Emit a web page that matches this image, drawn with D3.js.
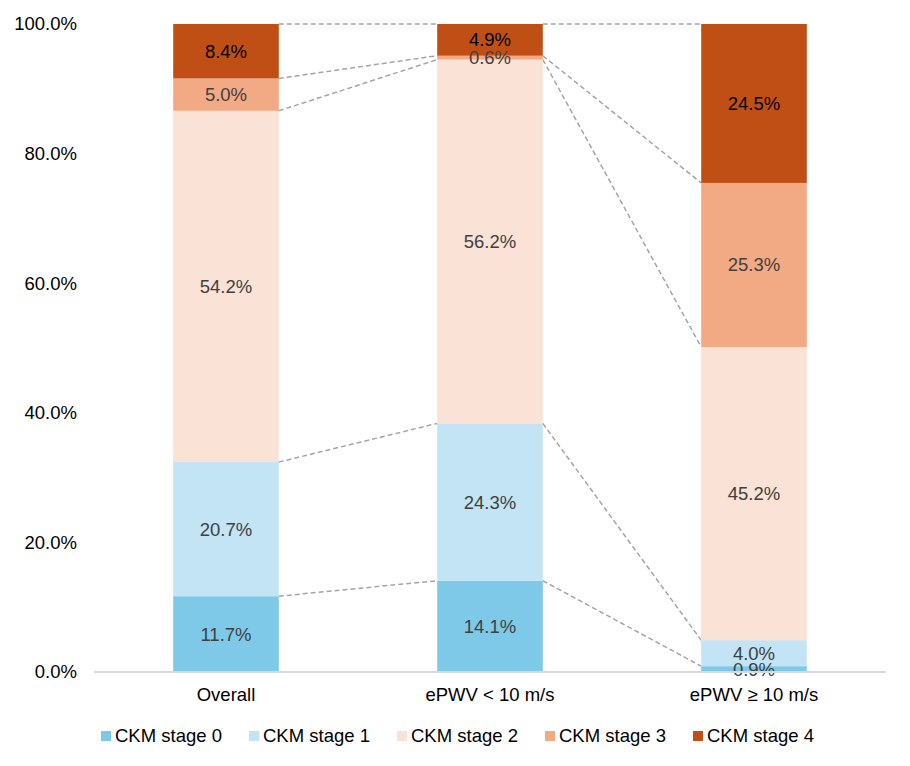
<!DOCTYPE html>
<html><head><meta charset="utf-8">
<script src="https://cdn.jsdelivr.net/npm/d3@7"></script>
<style>body{margin:0;background:#fff}svg{display:block;font-family:"Liberation Sans",Arial,sans-serif}</style>
</head><body><svg id="c" width="910" height="766"></svg>
<script>
const categories = ["Overall", "ePWV < 10 m/s", "ePWV \u2265 10 m/s"];
const seriesNames = ["CKM stage 0", "CKM stage 1", "CKM stage 2", "CKM stage 3", "CKM stage 4"];
const stage0 = [11.7, 14.1, 0.9];
const stage1 = [20.7, 24.3, 4.0];
const stage2 = [54.2, 56.2, 45.2];
const stage3 = [5.0, 0.6, 25.3];
const stage4 = [8.4, 4.9, 24.5];
const colors = ["#7FC9E8", "#C2E4F4", "#FBE2D6", "#F2AA84", "#C04F15"];
const labelColors = ["#404040", "#404040", "#404040", "#404040", "#000000"];
const yTicks = [0, 0.2, 0.4, 0.6, 0.8, 1.0];

const seriesVals = [stage0, stage1, stage2, stage3, stage4];
const table = categories.map((c, i) => {
  const o = {cat: c};
  seriesNames.forEach((s, j) => o[s] = seriesVals[j][i]);
  return o;
});
const stacked = d3.stack().keys(seriesNames).offset(d3.stackOffsetExpand)(table);

const FS = 18.5;
const svg = d3.select("#c");
const pL = 94, pR = 886, pT = 24, pB = 672;
const x = d3.scaleBand().domain(categories).range([pL, pR]).paddingInner(0.6).paddingOuter(0.3);
const y = d3.scaleLinear().domain([0, 1]).range([pB, pT]);

// y axis labels
const yAx = svg.append("g").attr("transform", `translate(${pL},0)`)
  .call(d3.axisLeft(y).tickValues(yTicks).tickFormat(d3.format(".1%")).tickSize(0).tickPadding(17));
yAx.select(".domain").remove();
yAx.selectAll("text").attr("font-size", FS).attr("fill", "#000").attr("font-family", "Liberation Sans, Arial, sans-serif");

// connector lines
stacked.forEach((s, j) => {
  for (let i = 0; i < categories.length - 1; i++) {
    svg.append("line")
      .attr("x1", x(categories[i]) + x.bandwidth()).attr("y1", y(s[i][1]))
      .attr("x2", x(categories[i + 1])).attr("y2", y(s[i + 1][1]))
      .attr("stroke", "#A5A5A5").attr("stroke-width", 1.5).attr("stroke-dasharray", "5,3");
  }
});

// bars
const g = svg.append("g");
stacked.forEach((s, j) => {
  g.selectAll(null).data(s).enter().append("rect")
    .attr("x", d => x(d.data.cat)).attr("width", x.bandwidth())
    .attr("y", d => y(d[1])).attr("height", d => y(d[0]) - y(d[1]))
    .attr("fill", colors[j]);
});

// x axis
svg.append("g").attr("transform", `translate(0,${pB})`)
  .call(d3.axisBottom(x).tickSize(0).tickPadding(16))
  .call(a => a.select(".domain").attr("stroke", "#D9D9D9").attr("stroke-width", 2).attr("d", `M${pL},0H${pR}`))
  .selectAll("text").attr("font-size", FS).attr("fill", "#000").attr("font-family", "Liberation Sans, Arial, sans-serif");

// labels
stacked.forEach((s, j) => {
  g.selectAll(null).data(s).enter().append("text")
    .attr("x", d => x(d.data.cat) + x.bandwidth() / 2)
    .attr("y", d => (y(d[0]) + y(d[1])) / 2)
    .attr("dy", "0.35em").attr("text-anchor", "middle")
    .attr("font-size", FS).attr("fill", labelColors[j])
    .text((d, i) => d3.format(".1f")(seriesVals[j][i]) + "%");
});

// legend
const lg = svg.append("g").attr("transform", "translate(101,736)");
seriesNames.forEach((n, j) => {
  const it = lg.append("g").attr("transform", `translate(${j * 148},0)`);
  it.append("rect").attr("x", 0).attr("y", -5).attr("width", 10).attr("height", 10).attr("fill", colors[j]);
  it.append("text").attr("x", 14).attr("y", 0).attr("dy", "0.35em").attr("font-size", FS).attr("fill", "#000").text(n);
});
</script></body></html>
